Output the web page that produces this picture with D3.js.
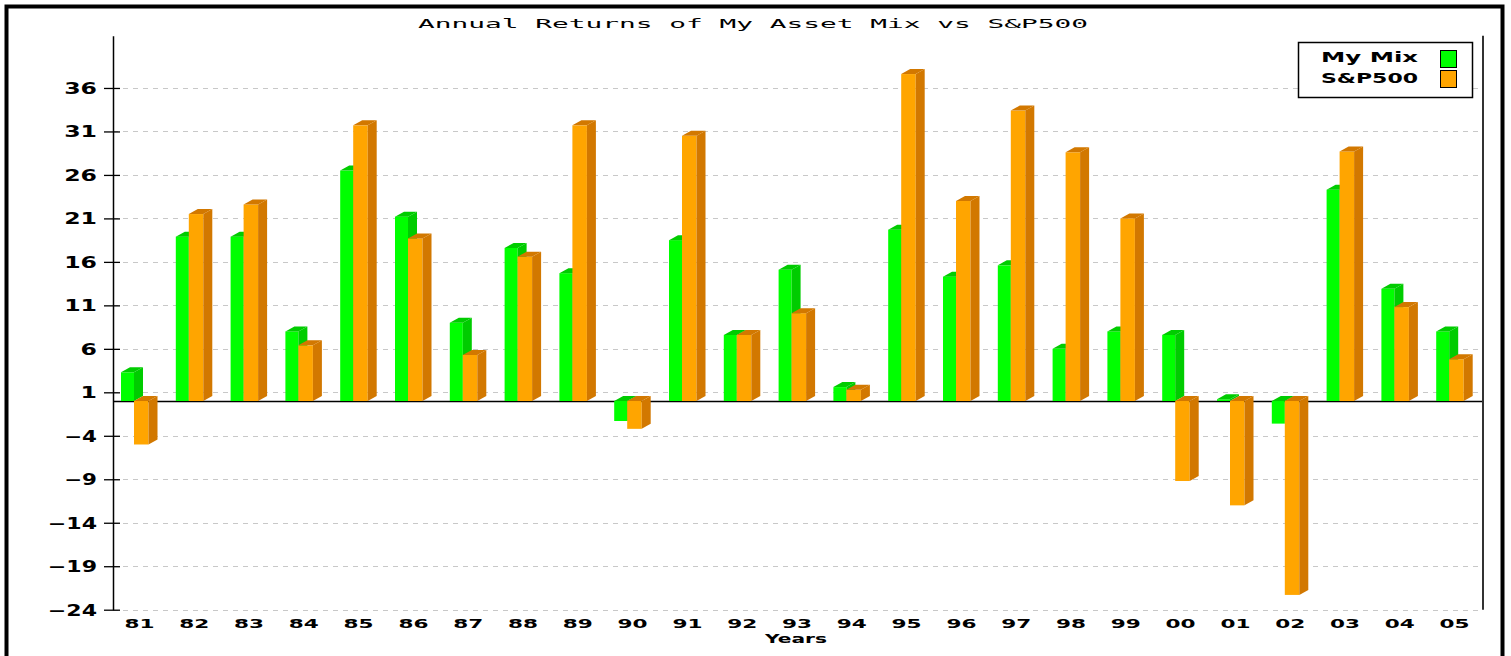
<!DOCTYPE html>
<html>
<head>
<meta charset="utf-8">
<script src="https://cdn.jsdelivr.net/npm/d3@7"></script>
<style>
  html, body { margin: 0; padding: 0; background: #fff; }
  svg { display: block; }
</style>
</head>
<body>
<svg id="chart" width="1511" height="656"></svg>
<script>
// ---- data ----
const years = ["81","82","83","84","85","86","87","88","89","90","91","92","93","94","95","96","97","98","99","00","01","02","03","04","05"];
const myMix = [3.3, 18.9, 18.9, 8.0, 26.5, 21.2, 9.0, 17.6, 14.7, -2.3, 18.5, 7.6, 15.1, 1.6, 19.7, 14.3, 15.6, 6.0, 8.0, 7.6, 0.2, -2.6, 24.3, 12.9, 8.0];
const sp500 = [-5.0, 21.5, 22.6, 6.4, 31.7, 18.7, 5.3, 16.6, 31.7, -3.2, 30.5, 7.6, 10.1, 1.3, 37.6, 23.0, 33.4, 28.6, 21.0, -9.2, -12.0, -22.3, 28.7, 10.8, 4.8];
const yTicks = [-24, -19, -14, -9, -4, 1, 6, 11, 16, 21, 26, 31, 36];
const seriesNames = ["My Mix", "S&P500"];
const titleText = "Annual Returns of My Asset Mix vs S&P500";
const xTitle = "Years";

// ---- layout ----
const svg = d3.select("#chart");
const pLeft = 113, pRight = 1483, pTop = 35.8, pBottom = 609.7;
const x = d3.scaleBand().domain(years).range([pLeft, pRight]).paddingInner(0).paddingOuter(0);
const y = d3.scaleLinear().domain([-24, 42]).range([pBottom, pTop]);

const colors = {
  green: { front: "#00ff00", dark: "#00cc00" },
  orange: { front: "#ffa500", dark: "#d27800" }
};

// outer frame
svg.append("rect").attr("x", 6.5).attr("y", 6.5).attr("width", 1496).attr("height", 720)
  .attr("fill", "none").attr("stroke", "#000").attr("stroke-width", 4);

// title
svg.append("text").attr("x", 418).attr("y", 28)
  .attr("font-family", "DejaVu Sans Mono").attr("font-size", 13)
  .attr("textLength", 670).attr("lengthAdjust", "spacingAndGlyphs")
  .attr("fill", "#000").text(titleText);

// grid lines
const grid = svg.append("g");
grid.selectAll("line").data(yTicks).join("line")
  .attr("x1", pLeft).attr("x2", pRight)
  .attr("y1", d => Math.round(y(d)) + 0.5).attr("y2", d => Math.round(y(d)) + 0.5)
  .attr("stroke", "#c8c8c8").attr("stroke-width", 1).attr("stroke-dasharray", "5,5");

// zero line
svg.append("line").attr("x1", pLeft).attr("x2", pRight)
  .attr("y1", Math.round(y(0)) + 0.5).attr("y2", Math.round(y(0)) + 0.5)
  .attr("stroke", "#000").attr("stroke-width", 1.3);

// right boundary line
svg.append("line").attr("x1", pRight).attr("x2", pRight).attr("y1", pTop).attr("y2", pBottom)
  .attr("stroke", "#333").attr("stroke-width", 2);

// y axis
const yAxis = svg.append("g").attr("transform", `translate(${pLeft},0)`)
  .call(d3.axisLeft(y).tickValues(yTicks).tickSizeInner(9).tickSizeOuter(0).tickFormat(d3.format("d")));
yAxis.select(".domain").attr("stroke", "#000").attr("stroke-width", 1.5);
yAxis.selectAll(".tick line").attr("x1", -9).attr("x2", 7).attr("stroke", "#000").attr("stroke-width", 1.3);
yAxis.selectAll(".tick text").each(function(d) {
  const s = String(d).replace("-", "\u2212");
  const len = s.length * 16.4;
  d3.select(this).text(s)
    .attr("text-anchor", "start")
    .attr("x", -16 - len).attr("dy", "0.36em")
    .attr("textLength", len).attr("lengthAdjust", "spacingAndGlyphs")
    .attr("font-family", "DejaVu Sans").attr("font-weight", "bold").attr("font-size", 15)
    .attr("fill", "#000");
});

// x axis
const xAxis = svg.append("g").attr("transform", `translate(0,${pBottom})`)
  .call(d3.axisBottom(x).tickSize(0).tickPadding(0));
xAxis.select(".domain").remove();
xAxis.selectAll(".tick text").each(function() {
  const len = 30;
  d3.select(this)
    .attr("text-anchor", "start").attr("x", -len / 2 - 1).attr("y", 18.5).attr("dy", 0)
    .attr("textLength", len).attr("lengthAdjust", "spacingAndGlyphs")
    .attr("font-family", "DejaVu Sans").attr("font-weight", "bold").attr("font-size", 13)
    .attr("fill", "#000");
});

// x title
svg.append("text").attr("x", 765).attr("y", 643)
  .attr("font-family", "DejaVu Sans").attr("font-weight", "bold").attr("font-size", 13)
  .attr("textLength", 62).attr("lengthAdjust", "spacingAndGlyphs").text(xTitle);

// 3D bars
const dx = 9, dy = 5;
function drawBar(g, x0, w, v, c) {
  const y0 = y(0), y1 = y(v);
  const t = Math.min(y0, y1), b = Math.max(y0, y1);
  g.append("rect").attr("x", x0).attr("y", t).attr("width", w).attr("height", Math.max(b - t, 0.8))
    .attr("fill", c.front);
  g.append("polygon")
    .attr("points", [[x0, t], [x0 + dx, t - dy], [x0 + w + dx, t - dy], [x0 + w, t]].map(p => p.join(",")).join(" "))
    .attr("fill", c.dark);
  g.append("polygon")
    .attr("points", [[x0 + w, t], [x0 + w + dx, t - dy], [x0 + w + dx, b - dy], [x0 + w, b]].map(p => p.join(",")).join(" "))
    .attr("fill", c.dark);
}
const bars = svg.append("g");
years.forEach((yr, i) => {
  const g = bars.append("g");
  const bx = x(yr);
  drawBar(g, bx + 8, 13, myMix[i], colors.green);
  drawBar(g, bx + 21, 14.5, sp500[i], colors.orange);
});

// legend
const lg = svg.append("g");
lg.append("rect").attr("x", 1298.5).attr("y", 42.5).attr("width", 174).attr("height", 55)
  .attr("fill", "#fff").attr("stroke", "#000").attr("stroke-width", 1.5);
const legendItems = [
  { name: seriesNames[0], c: colors.green.front, yb: 62, ys: 50 },
  { name: seriesNames[1], c: colors.orange.front, yb: 83, ys: 70 }
];
legendItems.forEach(it => {
  lg.append("text").attr("x", 1321).attr("y", it.yb)
    .attr("font-family", "DejaVu Sans").attr("font-weight", "bold").attr("font-size", 14)
    .attr("textLength", 97).attr("lengthAdjust", "spacingAndGlyphs").text(it.name);
  lg.append("rect").attr("x", 1440.5).attr("y", it.ys + 0.5).attr("width", 16).attr("height", 17)
    .attr("fill", it.c).attr("stroke", "#000").attr("stroke-width", 1);
});
</script>
</body>
</html>
